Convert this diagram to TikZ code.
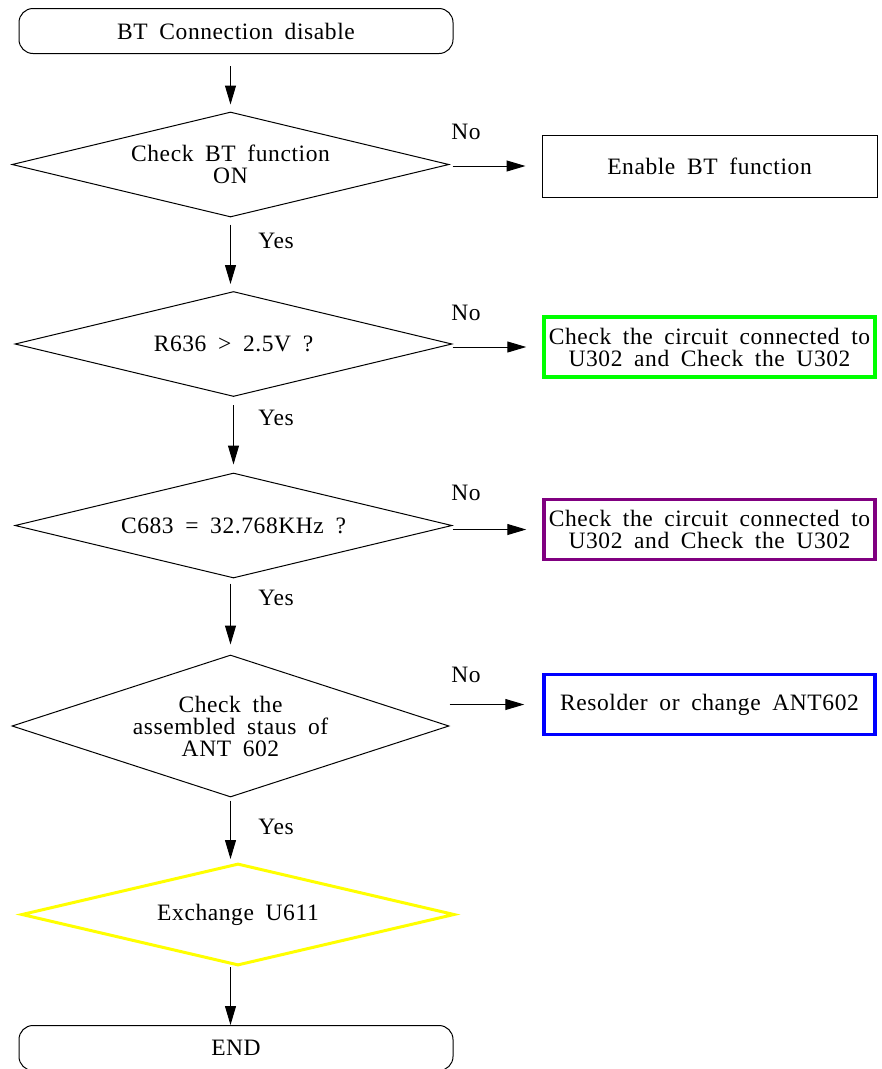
\documentclass[tikz,border=0pt]{standalone}
\usepackage{fontspec}
\setmainfont{Liberation Serif}[LetterSpace=2.5,WordSpace=1.8]
\usetikzlibrary{shapes.geometric,arrows.meta}
\definecolor{cgreen}{RGB}{0,255,0}
\definecolor{cpurple}{RGB}{128,0,128}
\definecolor{cblue}{RGB}{0,0,255}
\definecolor{cyellow}{RGB}{255,255,0}
\tikzset{
 txt/.style={font=\fontsize{23.5}{22}\selectfont, align=center, text=black},
 flow/.style={draw, line width=1pt, inner sep=0pt, txt},
 dec/.style={flow, diamond, aspect=4.16, minimum width=437pt, minimum height=105pt},
 term/.style={flow, rectangle, rounded corners=14pt, minimum width=434pt, minimum height=45pt},
 act/.style={flow, rectangle, minimum width=335pt, minimum height=62pt},
 cact/.style={flow, rectangle, line width=3.5pt, minimum width=331pt, minimum height=60pt},
 arr/.style={-{Triangle[length=19pt,width=11pt]}, line width=1pt},
 lbl/.style={txt, inner sep=0pt}
}
\begin{document}
\begin{tikzpicture}[x=1pt,y=-1pt]
\useasboundingbox (0,0) rectangle (882,1069);
\node[term] (start) at (236,31) {BT Connection disable};
\node[dec] (d1) at (230.5,164.5) {Check BT function\\ON};
\node[act] (b1) at (709.5,166) {Enable BT function};
\node[dec] (d2) at (233.5,344) {R636 > 2.5V ?};
\node[cact, draw=cgreen] (b2) at (709.5,347) {Check the circuit connected to\\U302 and Check the U302};
\node[dec] (d3) at (233.5,525.5) {C683 = 32.768KHz ?};
\node[cact, draw=cpurple] (b3) at (709.5,529.5) {Check the circuit connected to\\U302 and Check the U302};
\node[dec, aspect=3.08, minimum height=142pt] (d4) at (230.5,726) {Check the\\assembled staus of\\ANT 602};
\node[cact, draw=cblue] (b4) at (709.5,704.5) {Resolder or change ANT602};
\node[dec, draw=cyellow, line width=3pt, aspect=4.25, minimum width=433pt, minimum height=102pt] (d5) at (238,914.5) {Exchange U611};
\node[term] (end) at (236,1048) {END};

\draw[arr, shorten <=12pt, shorten >=7pt] (start.south -| d1.north) -- (d1.north);
\draw[arr, shorten <=7pt, shorten >=7pt] (d1.south) -- (d1.south |- d2.north);
\draw[arr, shorten <=8pt, shorten >=8pt] (d2.south) -- (d3.north);
\draw[arr, shorten <=5pt, shorten >=10pt] (d3.south -| d4.north) -- (d4.north);
\draw[arr, shorten <=3pt, shorten >=3pt] (d4.south) -- (d4.south |- d5.north);
\draw[arr] (d5.south -| d4.south) -- (d4.south |- end.north);

\draw[arr, shorten <=3pt, shorten >=16pt] (d1.east |- b1.west) -- (b1.west);
\draw[arr, shorten >=16pt] (d2.east |- b2.west) -- (b2.west);
\draw[arr, shorten >=16pt] (d3.east |- b3.west) -- (b3.west);
\draw[arr, shorten >=18pt] (d4.east |- b4.west) -- (b4.west);

\node[lbl] (no1) at (466,132) {No};
\node[lbl] (no2) at (466,313) {No};
\node[lbl] (no3) at (466,493) {No};
\node[lbl] (no4) at (466,675) {No};
\node[lbl] (yes1) at (276,241) {Yes};
\node[lbl] (yes2) at (276,418) {Yes};
\node[lbl] (yes3) at (276,598) {Yes};
\node[lbl] (yes4) at (276,827) {Yes};
\end{tikzpicture}
\end{document}
